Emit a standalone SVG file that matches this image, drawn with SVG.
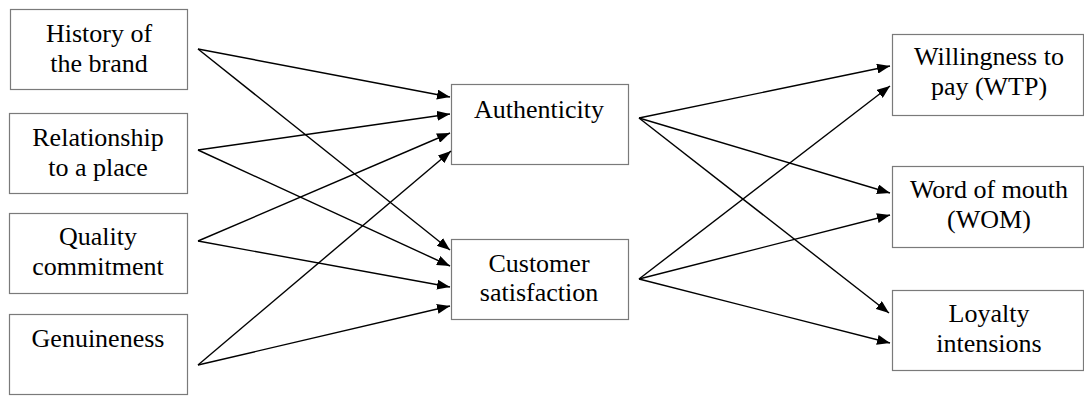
<svg xmlns="http://www.w3.org/2000/svg" width="1084" height="396" viewBox="0 0 1084 396">
  <defs>
    <marker id="arrow" markerUnits="userSpaceOnUse" markerWidth="13" markerHeight="10" refX="13" refY="5" orient="auto">
      <path d="M0,0 L13,5 L0,10 z" fill="#000"/>
    </marker>
    <style>
      .box { fill: #fff; stroke: #7a7a7a; stroke-width: 1.2; }
      .lbl { font-size: 26px; fill: #000; text-anchor: middle; }
      .edge { stroke: #000; stroke-width: 1.4; fill: none; marker-end: url(#arrow); }
    </style>
  </defs>
  <rect width="1084" height="396" fill="#fff"/>

  <g font-family="'Liberation Serif', 'DejaVu Serif', serif">
  <!-- antecedents -->
  <g id="history">
    <rect class="box" x="10.5" y="9.5" width="177" height="80"/>
    <text class="lbl" x="99" y="42">History of</text>
    <text class="lbl" x="99" y="72">the brand</text>
  </g>
  <g id="relationship">
    <rect class="box" x="9.5" y="113.5" width="178" height="80"/>
    <text class="lbl" x="98" y="146">Relationship</text>
    <text class="lbl" x="98" y="176">to a place</text>
  </g>
  <g id="quality">
    <rect class="box" x="9.5" y="213.5" width="178" height="80"/>
    <text class="lbl" x="98" y="245">Quality</text>
    <text class="lbl" x="98" y="275">commitment</text>
  </g>
  <g id="genuineness">
    <rect class="box" x="9.5" y="314.5" width="178" height="80"/>
    <text class="lbl" x="98" y="347">Genuineness</text>
  </g>

  <!-- mediators -->
  <g id="authenticity">
    <rect class="box" x="451.5" y="84.5" width="177" height="80"/>
    <text class="lbl" x="539" y="118">Authenticity</text>
  </g>
  <g id="satisfaction">
    <rect class="box" x="451.5" y="239.5" width="177" height="80"/>
    <text class="lbl" x="539" y="272">Customer</text>
    <text class="lbl" x="539" y="301">satisfaction</text>
  </g>

  <!-- outcomes -->
  <g id="wtp">
    <rect class="box" x="892.5" y="34.5" width="191" height="81"/>
    <text class="lbl" x="989" y="65">Willingness to</text>
    <text class="lbl" x="989" y="95">pay (WTP)</text>
  </g>
  <g id="wom">
    <rect class="box" x="892.5" y="166.5" width="191" height="81"/>
    <text class="lbl" x="989" y="198">Word of mouth</text>
    <text class="lbl" x="989" y="228">(WOM)</text>
  </g>
  <g id="loyalty">
    <rect class="box" x="892.5" y="290.5" width="191" height="80"/>
    <text class="lbl" x="989" y="322">Loyalty</text>
    <text class="lbl" x="989" y="352">intensions</text>
  </g>
  </g>

  <!-- paths -->
  <g id="connectors">
    <line class="edge" x1="198" y1="49" x2="450" y2="97"/>
    <line class="edge" x1="198" y1="150" x2="450" y2="114"/>
    <line class="edge" x1="198" y1="241" x2="450" y2="133"/>
    <line class="edge" x1="198" y1="365" x2="451" y2="151"/>

    <line class="edge" x1="198" y1="49" x2="450" y2="250"/>
    <line class="edge" x1="198" y1="150" x2="450" y2="266"/>
    <line class="edge" x1="198" y1="241" x2="450" y2="287"/>
    <line class="edge" x1="198" y1="365" x2="450" y2="306"/>

    <line class="edge" x1="639" y1="118" x2="890" y2="66"/>
    <line class="edge" x1="639" y1="118" x2="890" y2="193"/>
    <line class="edge" x1="639" y1="118" x2="889" y2="313"/>

    <line class="edge" x1="639" y1="279" x2="890" y2="86"/>
    <line class="edge" x1="639" y1="279" x2="890" y2="215"/>
    <line class="edge" x1="639" y1="279" x2="890" y2="343"/>
  </g>
</svg>
